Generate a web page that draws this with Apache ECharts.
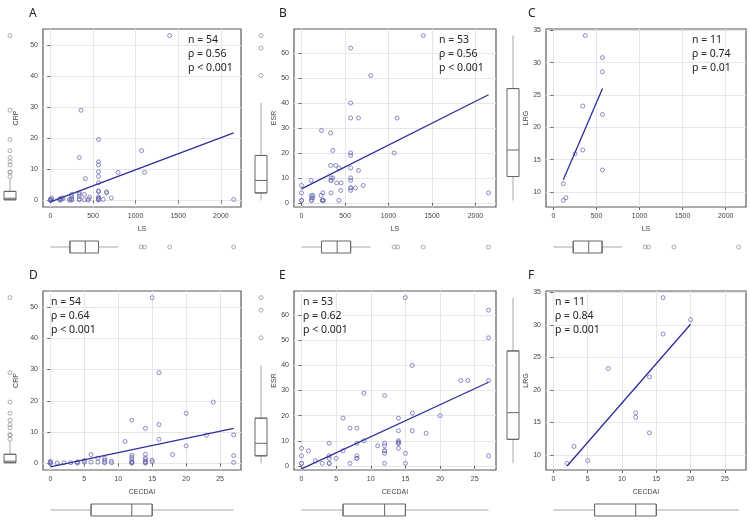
<!DOCTYPE html>
<html>
<head>
<meta charset="utf-8">
<script src="https://cdn.jsdelivr.net/npm/echarts@6/dist/echarts.min.js"></script>
<style>
  html, body { margin: 0; padding: 0; background: #fff; }
  #main { width: 750px; height: 525px; }
</style>
</head>
<body>
<div id="main"></div>
<script>
// ---- data ----
// A: LS vs CRP
var lsCrp = [[1400,53],[360,29],[565,19.6],[1070,16],[340,13.8],[565,12.4],[565,11.4],[565,9.2],[795,9],[1105,9],
  [565,7.7],[410,7],[565,5.7],[565,3.1],[565,2.8],[660,2.8],[660,2.4],[340,2.5],[340,2.0],[340,1.3],
  [400,1.9],[250,1.9],[715,0.8],[565,1.1],[565,0.3],[565,0.1],[620,0.3],[460,1.0],[450,0.4],[400,0.2],
  [340,0.2],[250,1.2],[250,0.6],[250,0.1],[226,0.3],[137,0.8],[125,0.4],[110,0.2],[15,0.8],[0,0.1],
  [0,0.4],[2150,0.3],[0,0.2],[0,0],[110,0.5],[120,0.1],[250,0.3],[226,0.1],[565,0.5],[565,0.7],
  [440,0.1],[150,0.6],[15,0.2],[340,0.5]];
var lsCrpFit = [[0,-0.5],[2150,21.7]];
// B: LS vs ESR
var lsEsr = [[1400,67],[565,62],[795,51],[565,40],[565,34],[655,34],[1100,34],[230,29],[335,28],[360,21],
  [565,20],[565,19],[1065,20],[335,15],[395,15],[430,14],[565,14],[655,13],[340,10],[340,9],
  [360,10],[405,8],[455,8],[565,10],[565,9],[565,6],[565,5],[620,6],[710,7],[450,5],
  [340,4],[245,4],[225,3],[115,3],[130,3],[115,2],[115,1],[0,7],[0,4],[0,1],
  [110,9],[240,1],[250,1],[245,1],[430,1],[2150,4],[240,1],[0,1],[115,1],[340,9],
  [565,6],[250,1],[130,2]];
var lsEsrFit = [[0,5.6],[2150,43.3]];
// C: LS vs LRG
var lsLrg = [[370,34.2],[570,30.8],[570,28.6],[340,23.3],[570,22],[340,16.5],[250,15.9],[570,13.4],[115,11.3],[145,9.1],[115,8.7]];
var lsLrgFit = [[115,11.9],[570,26]];
// D: CECDAI vs CRP
var cecCrp = [[15,53],[16,29],[24,19.6],[20,16],[12,13.8],[16,12.4],[14,11.2],[27,9.1],[23,9],[16,7.7],
  [11,7],[20,5.6],[6,2.8],[18,2.8],[14,2.9],[27,2.5],[12,2.6],[12,2.0],[12,1.4],[14,1.7],
  [14,1.2],[14,0.6],[12,0.6],[12,0.2],[14,0.2],[15,1.0],[15,0.5],[27,0.3],[8,1.6],[8,1.0],
  [8,0.4],[9,0.7],[9,0.2],[7,0.4],[6,0.4],[5,0.9],[5,0.4],[4,0.5],[4,0.1],[3,0.2],
  [2,0.2],[1,0.1],[0,0.7],[0,0.3],[0,0],[7,1.7],[12,0.3],[12,0.1],[14,0.4],[4,0.3],
  [0,0.1],[8,0.2],[14,0.1],[12,0.4]];
var cecCrpFit = [[0,-1.1],[27,11.2]];
// E: CECDAI vs ESR
var cecEsr = [[15,67],[27,62],[27,51],[16,40],[23,34],[24,34],[27,34],[9,29],[12,28],[16,21],
  [20,20],[14,19],[6,19],[7,15],[8,15],[16,14],[14,14],[18,13],[14,10],[14,9.5],
  [14,9],[14,7],[12,9],[12,8],[12,6],[12,5],[11,8],[9,10],[8,9],[8,4],
  [8,3],[6,6],[4,9],[4,4],[4,3],[4,1],[5,3],[3,1],[2,2],[1,6],
  [0,7],[0,4],[0,1],[7,1],[12,1],[15,5],[15,1],[27,4],[12,6],[14,9],
  [0,1],[8,3],[4,1]];
var cecEsrFit = [[0,-1.2],[27,33.3]];
// F: CECDAI vs LRG
var cecLrg = [[16,34.2],[20,30.8],[16,28.6],[8,23.3],[14,22],[12,16.5],[12,15.8],[14,13.4],[3,11.3],[5,9.1],[2,8.7]];
var cecLrgFit = [[2,8.3],[20,30.1]];

// marginal boxplots: [min, Q1, median, Q3, max] and outliers
var crpBox = [0, 0.2, 0.7, 2.9, 7.0];
var crpOut = [7.7, 9, 9.2, 11.4, 12.4, 13.8, 16, 19.6, 29, 53];
var esrBox = [1, 4, 9, 19, 40];
var esrOut = [51, 62, 67];
var lrgBox = [8.7, 12.4, 16.5, 26, 34.2];
var lrgOut = [];
var lsBox = [0, 230, 410, 565, 795];
var lsOut = [1065, 1105, 1400, 2150];
var cecBox = [0, 6, 12, 15, 27];
var cecOut = [];

// tick labels
var lsTicks = [0, 500, 1000, 1500, 2000];
var cecTicks = [0, 5, 10, 15, 20, 25];
var crpTicks = [0, 10, 20, 30, 40, 50];
var esrTicks = [0, 10, 20, 30, 40, 50, 60];
var lrgTicks = [10, 15, 20, 25, 30, 35];

var statsA = 'n = 54\nρ = 0.56\np < 0.001';
var statsB = 'n = 53\nρ = 0.56\np < 0.001';
var statsC = 'n = 11\nρ = 0.74\np = 0.01';
var statsD = 'n = 54\nρ = 0.64\np < 0.001';
var statsE = 'n = 53\nρ = 0.62\np < 0.001';
var statsF = 'n = 11\nρ = 0.84\np = 0.001';

// axis extents (data range + 4%)
var lsRange = [-86, 2236];
var cecRange = [-1.08, 28.08];
var crpRange = [-2.12, 55.12];
var esrRange = [-1.64, 69.64];
var lrgRange = [7.68, 35.22];

var myChart = echarts.init(document.getElementById('main'));

var option = {
  animation: false,
  backgroundColor: '#fff',
  title: [],
  grid: [],
  xAxis: [],
  yAxis: [],
  series: []
};

var txtFont = 'Noto Sans';
var axFont = 'Liberation Sans';

// hollow ring markers
var ptStyle = { color: 'rgba(0,0,0,0)', borderColor: '#6f6fb6', borderWidth: 1 };
var outStyle = { color: 'rgba(0,0,0,0)', borderColor: '#999', borderWidth: 1 };

function valAxis (gi, range, ticks, name, gap, isX) {
  return {
    type: 'value', gridIndex: gi, min: range[0], max: range[1], splitNumber: 5,
    name: name, nameLocation: 'middle', nameGap: gap,
    nameTextStyle: { fontSize: 7, color: '#444', fontFamily: axFont },
    axisLine: { show: false },
    axisTick: { show: true, length: 3, lineStyle: { color: '#666' }, customValues: ticks },
    axisLabel: { fontSize: 7, color: '#444', fontFamily: axFont, margin: isX ? 6 : 5, customValues: ticks,
      formatter: function (v) { return String(v); } },
    splitLine: { show: true, lineStyle: { color: '#e6e6e6', width: 1 } }
  };
}

function addPanel (p) {
  // main scatter
  var gi = option.grid.length;
  option.grid.push({ left: p.left, top: p.top, width: p.width, height: p.height,
    show: true, borderColor: '#5a5a5a', borderWidth: 1.2, backgroundColor: 'transparent' });
  option.xAxis.push(valAxis(gi, p.xRange, p.xTicks, p.xName, 19, true));
  option.yAxis.push(valAxis(gi, p.yRange, p.yTicks, p.yName, p.yGap, false));
  option.series.push({ type: 'scatter', xAxisIndex: gi, yAxisIndex: gi, data: p.points,
    symbol: 'circle', symbolSize: 4, itemStyle: ptStyle, z: 3 });
  option.series.push({ type: 'line', xAxisIndex: gi, yAxisIndex: gi, data: p.fit, symbol: 'none',
    lineStyle: { color: '#2e2e9c', width: 1.3 }, z: 4 });

  // vertical boxplot (y variable)
  var vi = option.grid.length;
  option.grid.push({ left: p.vbox - 10, top: p.top, width: 20, height: p.height });
  option.xAxis.push({ type: 'category', gridIndex: vi, data: ['y'], show: false });
  option.yAxis.push({ type: 'value', gridIndex: vi, min: p.yRange[0], max: p.yRange[1], show: false });
  var yb = p.yBox;
  option.series.push({ type: 'line', xAxisIndex: vi, yAxisIndex: vi, data: [[0, yb[0]], [0, yb[4]]],
    symbol: 'none', lineStyle: { color: '#c4c4c4', width: 1.5 }, z: 2 });
  option.series.push({ type: 'boxplot', xAxisIndex: vi, yAxisIndex: vi, boxWidth: [12, 12],
    data: [[yb[1], yb[1], yb[2], yb[3], yb[3]]],
    itemStyle: { color: '#fff', borderColor: '#666', borderWidth: 1 }, z: 3 });
  option.series.push({ type: 'scatter', xAxisIndex: vi, yAxisIndex: vi,
    data: p.yOut.map(function (v) { return [0, v]; }),
    symbol: 'circle', symbolSize: 4, itemStyle: outStyle });

  // horizontal boxplot (x variable)
  var hi = option.grid.length;
  option.grid.push({ left: p.left, top: p.hbox - 10, width: p.width, height: 20 });
  option.xAxis.push({ type: 'value', gridIndex: hi, min: p.xRange[0], max: p.xRange[1], show: false });
  option.yAxis.push({ type: 'category', gridIndex: hi, data: ['x'], show: false });
  var xb = p.xBox;
  option.series.push({ type: 'line', xAxisIndex: hi, yAxisIndex: hi, data: [[xb[0], 0], [xb[4], 0]],
    symbol: 'none', lineStyle: { color: '#c4c4c4', width: 1.5 }, z: 2 });
  option.series.push({ type: 'boxplot', xAxisIndex: hi, yAxisIndex: hi, boxWidth: [12, 12],
    data: [[xb[1], xb[1], xb[2], xb[3], xb[3]]],
    itemStyle: { color: '#fff', borderColor: '#666', borderWidth: 1 }, z: 3 });
  option.series.push({ type: 'scatter', xAxisIndex: hi, yAxisIndex: hi,
    data: p.xOut.map(function (v) { return [v, 0]; }),
    symbol: 'circle', symbolSize: 4, itemStyle: outStyle });

  // panel letter and statistics
  option.title.push({ text: p.letter, left: p.letterX, top: p.top - 21, padding: 0,
    textStyle: { fontSize: 12, fontWeight: 'normal', color: '#222', fontFamily: txtFont } });
  option.title.push({ text: p.stats, left: p.statsX, top: p.top + 4, padding: 0,
    textStyle: { fontSize: 10.5, lineHeight: 14, fontWeight: 'normal', color: '#222', fontFamily: txtFont } });
}

addPanel({ letter: 'A', letterX: 29, left: 43, top: 29, width: 198, height: 178, vbox: 10, hbox: 247,
  points: lsCrp, fit: lsCrpFit, xRange: lsRange, yRange: crpRange, xTicks: lsTicks, yTicks: crpTicks,
  xName: 'LS', yName: 'CRP', yGap: 23, yBox: crpBox, yOut: crpOut, xBox: lsBox, xOut: lsOut,
  stats: statsA, statsX: 188 });
addPanel({ letter: 'B', letterX: 279, left: 294, top: 29, width: 202, height: 178, vbox: 261, hbox: 247,
  points: lsEsr, fit: lsEsrFit, xRange: lsRange, yRange: esrRange, xTicks: lsTicks, yTicks: esrTicks,
  xName: 'LS', yName: 'ESR', yGap: 14, yBox: esrBox, yOut: esrOut, xBox: lsBox, xOut: lsOut,
  stats: statsB, statsX: 439 });
addPanel({ letter: 'C', letterX: 528, left: 546, top: 29, width: 200, height: 178, vbox: 513, hbox: 247,
  points: lsLrg, fit: lsLrgFit, xRange: lsRange, yRange: lrgRange, xTicks: lsTicks, yTicks: lrgTicks,
  xName: 'LS', yName: 'LRG', yGap: 14, yBox: lrgBox, yOut: lrgOut, xBox: lsBox, xOut: lsOut,
  stats: statsC, statsX: 692 });
addPanel({ letter: 'D', letterX: 29, left: 43, top: 291, width: 198, height: 179, vbox: 10, hbox: 510,
  points: cecCrp, fit: cecCrpFit, xRange: cecRange, yRange: crpRange, xTicks: cecTicks, yTicks: crpTicks,
  xName: 'CECDAI', yName: 'CRP', yGap: 23, yBox: crpBox, yOut: crpOut, xBox: cecBox, xOut: cecOut,
  stats: statsD, statsX: 51 });
addPanel({ letter: 'E', letterX: 279, left: 294, top: 291, width: 202, height: 179, vbox: 261, hbox: 510,
  points: cecEsr, fit: cecEsrFit, xRange: cecRange, yRange: esrRange, xTicks: cecTicks, yTicks: esrTicks,
  xName: 'CECDAI', yName: 'ESR', yGap: 14, yBox: esrBox, yOut: esrOut, xBox: cecBox, xOut: cecOut,
  stats: statsE, statsX: 303 });
addPanel({ letter: 'F', letterX: 528, left: 546, top: 291, width: 200, height: 179, vbox: 513, hbox: 510,
  points: cecLrg, fit: cecLrgFit, xRange: cecRange, yRange: lrgRange, xTicks: cecTicks, yTicks: lrgTicks,
  xName: 'CECDAI', yName: 'LRG', yGap: 14, yBox: lrgBox, yOut: lrgOut, xBox: cecBox, xOut: cecOut,
  stats: statsF, statsX: 555 });

myChart.setOption(option);
</script>
</body>
</html>
